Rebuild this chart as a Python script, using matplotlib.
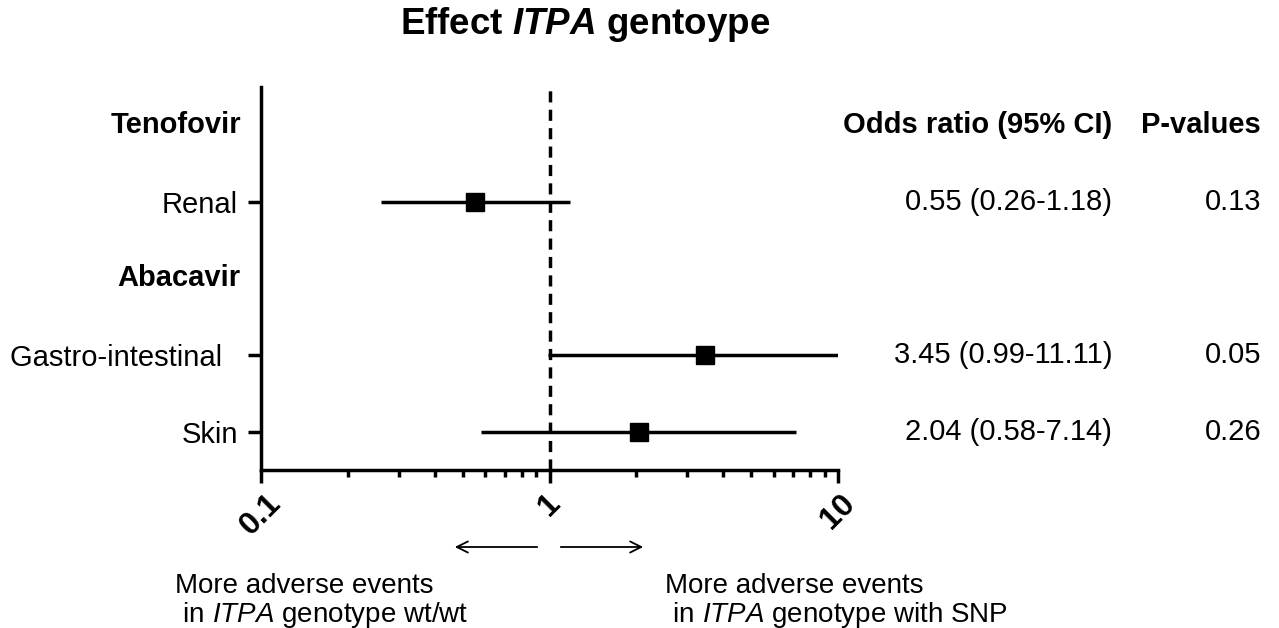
import numpy as np
import matplotlib
matplotlib.use("Agg")
import matplotlib.pyplot as plt
from matplotlib.transforms import blended_transform_factory

plt.rcParams['font.family'] = ['Liberation Sans', 'DejaVu Sans']
plt.rcParams['mathtext.fontset'] = 'custom'
plt.rcParams['mathtext.rm'] = 'Liberation Sans'
plt.rcParams['mathtext.it'] = 'Liberation Sans:italic'
plt.rcParams['mathtext.bf'] = 'Liberation Sans:bold'
plt.rcParams['mathtext.bfit'] = 'Liberation Sans:italic:bold'

# data
groups = ["Tenofovir", "Abacavir"]
outcomes = ["Renal", "Gastro-intestinal  ", "Skin"]
outcome_group = ["Tenofovir", "Abacavir", "Abacavir"]
odds = [0.55, 3.45, 2.04]
ci_low = [0.26, 0.99, 0.58]
ci_high = [1.18, 11.11, 7.14]
or_text = ["0.55 (0.26-1.18)", "3.45 (0.99-11.11)", "2.04 (0.58-7.14)"]
p_values = ["0.13", "0.05", "0.26"]
x_ticks = [0.1, 1, 10]
x_ticklabels = ["0.1", "1", "10"]

# row layout: group header followed by its outcomes, top to bottom
rows = []
for g in groups:
    rows.append((g, True))
    for o, og in zip(outcomes, outcome_group):
        if og == g:
            rows.append((o, False))
n = len(rows)
ypos = {name: n - i for i, (name, _) in enumerate(rows)}

fig = plt.figure(figsize=(12.79, 6.28), dpi=100)
ax = fig.add_axes([261 / 1279, 1 - 470 / 628, 577 / 1279, 383 / 628])

FS = 21
LW = 2.5

for o, m, lo, hi in zip(outcomes, odds, ci_low, ci_high):
    y = ypos[o]
    ax.plot([lo, hi], [y, y], color='black', lw=LW, solid_capstyle='butt')
    ax.plot(m, y, marker='s', color='black', markersize=12.5, zorder=3)

ax.axvline(1, color='black', lw=LW, linestyle=(0, (3.2, 2.1)), zorder=1)

ax.set_xscale('log')
ax.set_xlim(x_ticks[0], x_ticks[-1])
ax.set_ylim(0.5, n + 0.5)
ax.set_xticks(x_ticks)
ax.set_xticklabels(x_ticklabels, rotation=45, ha='center', va='top',
                   fontsize=23, fontweight='bold')
ax.xaxis.set_minor_locator(matplotlib.ticker.LogLocator(base=10,
                           subs=np.arange(2, 10)))
ax.xaxis.set_minor_formatter(matplotlib.ticker.NullFormatter())
ax.tick_params(axis='x', which='major', length=9, width=LW, pad=4)
ax.tick_params(axis='x', which='minor', length=5, width=LW)

ax.set_yticks([ypos[o] for o in outcomes])
ax.set_yticklabels(outcomes, fontsize=FS)
ax.tick_params(axis='y', length=9.4, width=LW, pad=7)

for s in ['top', 'right']:
    ax.spines[s].set_visible(False)
for s in ['left', 'bottom']:
    ax.spines[s].set_linewidth(LW)

# group headers next to the axis
for g in groups:
    ax.text(-0.035, ypos[g], g, transform=ax.get_yaxis_transform(),
            ha='right', va='center', fontsize=FS, fontweight='bold')

# table columns on the right
tr = blended_transform_factory(fig.transFigure, ax.transData)
x_or = 1112 / 1279
x_p = 1261 / 1279
ax.text(x_or, ypos[groups[0]], "Odds ratio (95% CI)", transform=tr,
        ha='right', va='center', fontsize=FS, fontweight='bold')
ax.text(x_p, ypos[groups[0]], "P-values", transform=tr,
        ha='right', va='center', fontsize=FS, fontweight='bold')
for o, t, p in zip(outcomes, or_text, p_values):
    ax.text(x_or, ypos[o], t, transform=tr, ha='right', va='center',
            fontsize=FS)
    ax.text(x_p, ypos[o], p, transform=tr, ha='right', va='center',
            fontsize=FS)

fig.text(585 / 1279, 1 - 25 / 628, r"Effect $\mathbfit{ITPA}$ gentoype",
         ha='center', va='center', fontsize=26.5, fontweight='bold')

# direction arrows and captions
ay = 1 - 547 / 628
fig.add_artist(matplotlib.patches.FancyArrowPatch(
    (540 / 1279, ay), (452 / 1279, ay), transform=fig.transFigure,
    arrowstyle='->,head_length=8,head_width=4', lw=1.3, color='black'))
fig.add_artist(matplotlib.patches.FancyArrowPatch(
    (558 / 1279, ay), (646 / 1279, ay), transform=fig.transFigure,
    arrowstyle='->,head_length=8,head_width=4', lw=1.3, color='black'))

fig.text(175 / 1279, 1 - 593 / 628, "More adverse events",
         ha='left', va='baseline', fontsize=20)
fig.text(175 / 1279, 1 - 622 / 628, r" in $\it{ITPA}$ genotype wt/wt",
         ha='left', va='baseline', fontsize=20)
fig.text(665 / 1279, 1 - 593 / 628, "More adverse events",
         ha='left', va='baseline', fontsize=20)
fig.text(665 / 1279, 1 - 622 / 628, r" in $\it{ITPA}$ genotype with SNP",
         ha='left', va='baseline', fontsize=20)

fig.savefig("out.png", dpi=100)
